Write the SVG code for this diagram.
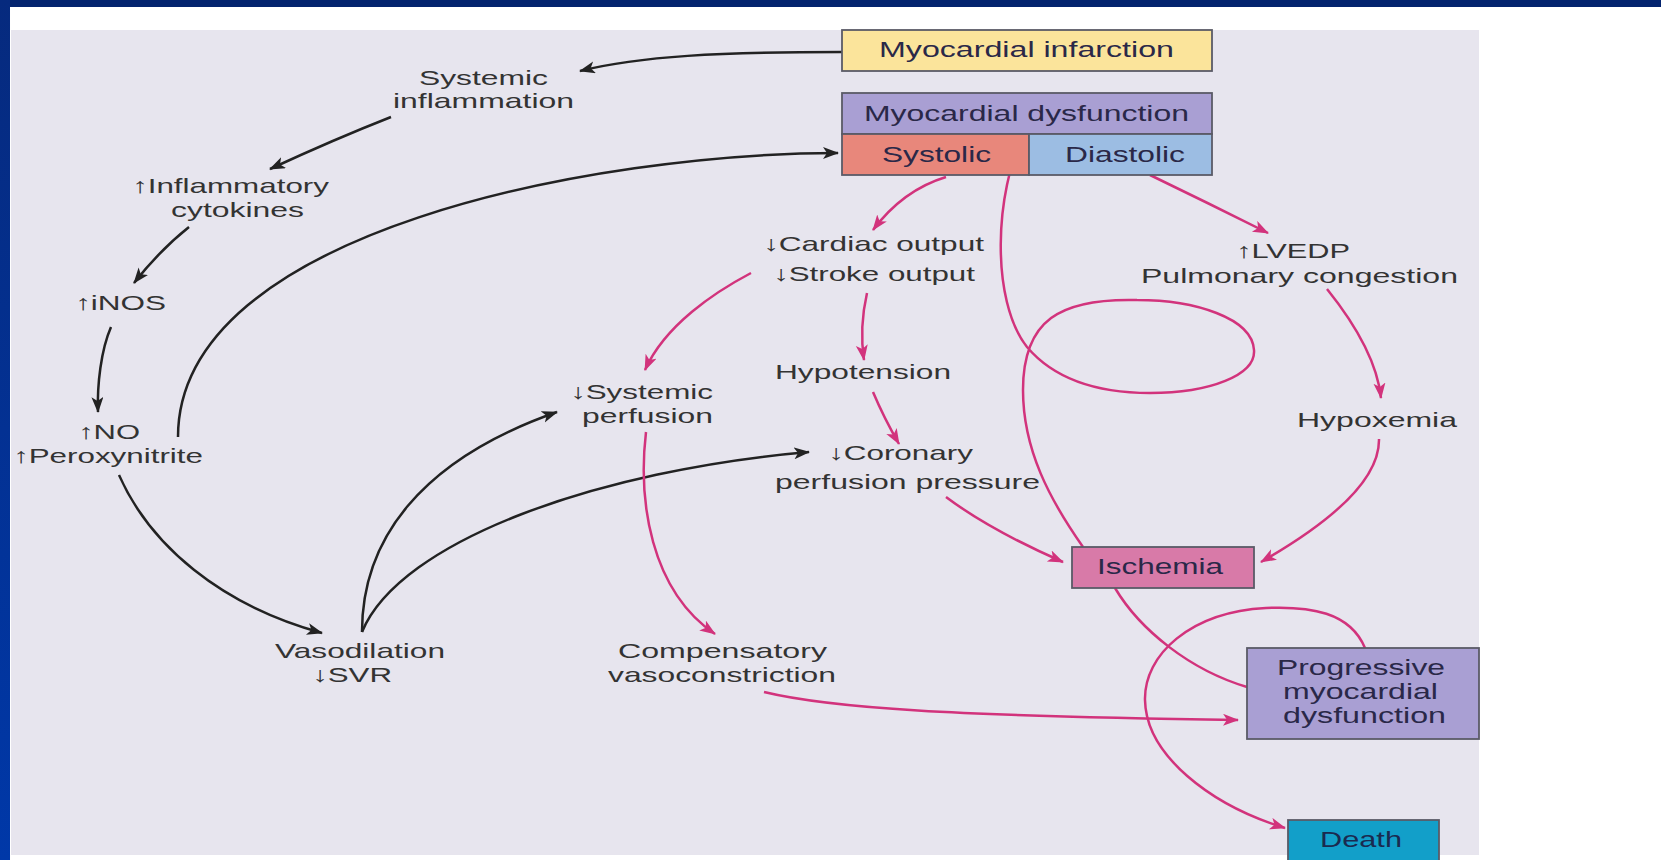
<svg xmlns="http://www.w3.org/2000/svg" width="1661" height="860" viewBox="0 0 1661 860">
<defs>
<linearGradient id="lb" x1="0" y1="0" x2="0" y2="1">
<stop offset="0" stop-color="#062a7e"/>
<stop offset="1" stop-color="#0038a8"/>
</linearGradient>
<marker id="ab" markerUnits="userSpaceOnUse" markerWidth="18" markerHeight="14" refX="15" refY="6" orient="auto">
<path d="M0,0 L16,6 L0,12 L4,6 z" fill="#222"/>
</marker>
<marker id="ap" markerUnits="userSpaceOnUse" markerWidth="18" markerHeight="14" refX="15" refY="6" orient="auto">
<path d="M0,0 L16,6 L0,12 L4,6 z" fill="#d2337c"/>
</marker>
<style>
text{font-family:"Liberation Sans",Arial,sans-serif;font-size:21px;fill:#333333}
.bx text{font-size:22.5px;fill:#2a2848}
.box{stroke:#5a5a66;stroke-width:1.8}
.blk{fill:none;stroke:#222;stroke-width:2.5;marker-end:url(#ab)}
.pk{fill:none;stroke:#d2337c;stroke-width:2.5}
.pka{marker-end:url(#ap)}
</style>
</defs>
<rect x="0" y="0" width="1661" height="860" fill="#ffffff"/>
<rect x="0" y="0" width="1661" height="7" fill="#03236e"/>
<rect x="0" y="0" width="10" height="860" fill="url(#lb)"/>
<rect x="11" y="30" width="1468" height="825" fill="#e7e5ee"/>

<g id="connectors">
<path class="blk" d="M842,52 C720,52 640,56 580,71"/>
<path class="blk" d="M391,117 Q335,139 270,169"/>
<path class="blk" d="M189,227 Q160,250 134,283"/>
<path class="blk" d="M111,327 C101,350 97,385 98,412"/>
<path class="blk" d="M178,437 C178,230 600,153 838,153"/>
<path class="blk" d="M119,475 C150,545 220,605 322,633"/>
<path class="blk" d="M362,632 C362,540 420,460 557,412"/>
<path class="blk" d="M362,632 C400,540 600,470 809,452"/>

<path class="pk pka" d="M946,177 Q903,190 873,230"/>
<path class="pk pka" d="M751,273 C715,292 665,325 645,370"/>
<path class="pk pka" d="M867,293 C862,315 861,340 864,360"/>
<path class="pk pka" d="M873,392 Q884,418 899,444"/>
<path class="pk pka" d="M946,497 Q990,530 1063,562"/>
<path class="pk pka" d="M646,432 C638,500 650,590 715,634"/>
<path class="pk pka" d="M764,692 C830,708 950,716 1238,720"/>
<path class="pk pka" d="M1150,175 Q1208,203 1268,233"/>
<path class="pk pka" d="M1327,289 Q1376,350 1381,398"/>
<path class="pk pka" d="M1379,439 Q1380,494 1261,562"/>
<path class="pk" d="M1024,135 C995,190 990,300 1027,347 C1055,380 1100,393 1150,393 C1210,393 1256,375 1254,350 C1252,318 1195,300 1137,300 C1060,298 1023,320 1023,390 C1023,450 1050,500 1083,547"/>
<path class="pk" d="M1115,588 C1140,630 1190,670 1247,687"/>
<path class="pk pka" d="M1365,648 C1350,612 1310,606 1266,608 C1190,612 1144,655 1145,700 C1146,755 1210,805 1285,828"/>
</g>

<g id="n-mi" class="bx">
<rect class="box" x="842" y="30" width="370" height="41" fill="#fbe49b"/>
<text x="879" y="57" textLength="295" lengthAdjust="spacingAndGlyphs">Myocardial infarction</text>
</g>
<g id="n-md" class="bx">
<rect class="box" x="842" y="93" width="370" height="41" fill="#a99fd3"/>
<text x="864" y="121" textLength="325" lengthAdjust="spacingAndGlyphs">Myocardial dysfunction</text>
</g>
<g id="n-sys" class="bx">
<rect class="box" x="842" y="134" width="187" height="41" fill="#e8877b"/>
<text x="882" y="162" textLength="109" lengthAdjust="spacingAndGlyphs">Systolic</text>
</g>
<g id="n-dia" class="bx">
<rect class="box" x="1029" y="134" width="183" height="41" fill="#9cbde3"/>
<text x="1065" y="162" textLength="120" lengthAdjust="spacingAndGlyphs">Diastolic</text>
</g>
<g id="n-si">
<text x="419" y="85" textLength="129" lengthAdjust="spacingAndGlyphs">Systemic</text>
<text x="393" y="108" textLength="181" lengthAdjust="spacingAndGlyphs">inflammation</text>
</g>
<g id="n-cyt">
<text x="132" y="193" textLength="197" lengthAdjust="spacingAndGlyphs">↑Inflammatory</text>
<text x="171" y="217" textLength="133" lengthAdjust="spacingAndGlyphs">cytokines</text>
</g>
<g id="n-inos">
<text x="75" y="310" textLength="91" lengthAdjust="spacingAndGlyphs">↑iNOS</text>
</g>
<g id="n-no">
<text x="78" y="439" textLength="62" lengthAdjust="spacingAndGlyphs">↑NO</text>
<text x="13" y="463" textLength="190" lengthAdjust="spacingAndGlyphs">↑Peroxynitrite</text>
</g>
<g id="n-vaso">
<text x="275" y="658" textLength="170" lengthAdjust="spacingAndGlyphs">Vasodilation</text>
<text x="312" y="682" textLength="80" lengthAdjust="spacingAndGlyphs">↓SVR</text>
</g>
<g id="n-co">
<text x="763" y="251" textLength="221" lengthAdjust="spacingAndGlyphs">↓Cardiac output</text>
<text x="773" y="281" textLength="202" lengthAdjust="spacingAndGlyphs">↓Stroke output</text>
</g>
<g id="n-hypo">
<text x="775" y="379" textLength="176" lengthAdjust="spacingAndGlyphs">Hypotension</text>
</g>
<g id="n-sp">
<text x="570" y="399" textLength="143" lengthAdjust="spacingAndGlyphs">↓Systemic</text>
<text x="582" y="423" textLength="131" lengthAdjust="spacingAndGlyphs">perfusion</text>
</g>
<g id="n-cpp">
<text x="828" y="460" textLength="145" lengthAdjust="spacingAndGlyphs">↓Coronary</text>
<text x="775" y="489" textLength="265" lengthAdjust="spacingAndGlyphs">perfusion pressure</text>
</g>
<g id="n-lvedp">
<text x="1236" y="258" textLength="114" lengthAdjust="spacingAndGlyphs">↑LVEDP</text>
<text x="1141" y="283" textLength="317" lengthAdjust="spacingAndGlyphs">Pulmonary congestion</text>
</g>
<g id="n-hypox">
<text x="1297" y="427" textLength="160" lengthAdjust="spacingAndGlyphs">Hypoxemia</text>
</g>
<g id="n-isch" class="bx">
<rect class="box" x="1072" y="547" width="182" height="41" fill="#d87aa8"/>
<text x="1097" y="574" textLength="126" lengthAdjust="spacingAndGlyphs">Ischemia</text>
</g>
<g id="n-comp">
<text x="618" y="658" textLength="209" lengthAdjust="spacingAndGlyphs">Compensatory</text>
<text x="608" y="682" textLength="228" lengthAdjust="spacingAndGlyphs">vasoconstriction</text>
</g>
<g id="n-pmd" class="bx">
<rect class="box" x="1247" y="648" width="232" height="91" fill="#a99fd3"/>
<text x="1277" y="675" textLength="168" lengthAdjust="spacingAndGlyphs">Progressive</text>
<text x="1283" y="699" textLength="155" lengthAdjust="spacingAndGlyphs">myocardial</text>
<text x="1283" y="723" textLength="163" lengthAdjust="spacingAndGlyphs">dysfunction</text>
</g>
<g id="n-death" class="bx">
<rect class="box" x="1288" y="820" width="151" height="50" fill="#129fc9"/>
<text x="1320" y="847" textLength="82" lengthAdjust="spacingAndGlyphs" style="fill:#1a2a50">Death</text>
</g>
</svg>
